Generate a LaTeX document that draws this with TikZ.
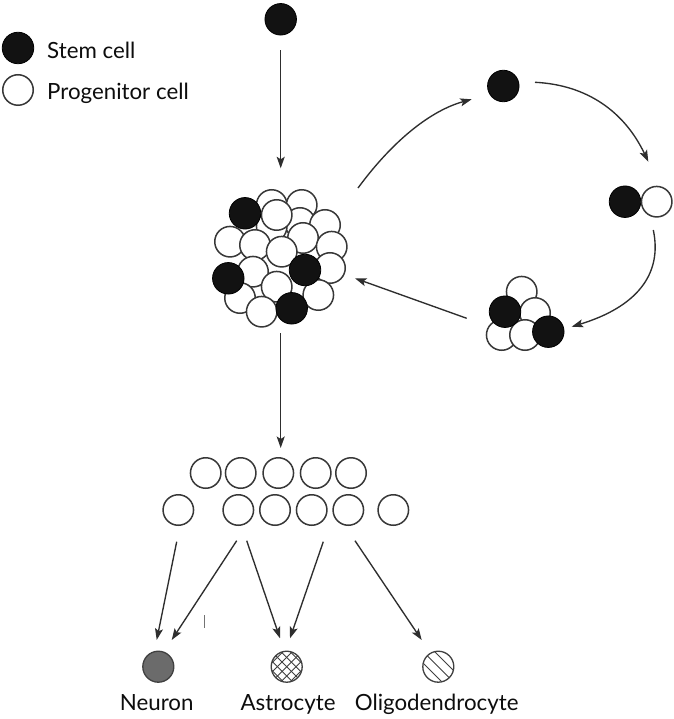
\documentclass[tikz,border=0pt]{standalone}
\usepackage{fontspec}
\setmainfont{Lato}
\usetikzlibrary{arrows.meta,calc}
\begin{document}
\begin{tikzpicture}[x=1pt,y=-1pt,
  stem/.style={circle,draw=black,fill=black!93,line width=0.8pt,minimum size=31.5pt,inner sep=0pt},
  prog/.style={circle,draw=black!78,fill=white,line width=1.5pt,minimum size=30.5pt,inner sep=0pt},
  fate/.style={circle,draw=black!75,line width=1.3pt,minimum size=31pt,inner sep=0pt},
  arr/.style={draw=black!82,line width=1.35pt,-{Stealth[length=11.5pt,width=8pt,inset=2.5pt]}},
  lbl/.style={font=\fontsize{22.3}{26}\selectfont,inner sep=0pt,text=black!95}]
\fill[white] (0,0) rectangle (673,719);
\useasboundingbox (0,0) rectangle (673,719);

% legend
\node[stem] (lstem) at (18,48) {};
\node[prog] (lprog) at (18,90) {};
\node[lbl,anchor=base west] (tstem) at (47,58.3) {Stem cell};
\node[lbl,anchor=base west] (tprog) at (47,100) {Progenitor cell};

% top stem cell
\node[stem] (top) at (280.7,19.3) {};

% big cluster (back to front)
\foreach \x/\y/\s [count=\i] in {
  271.7/205/prog, 301.7/205/prog, 300/223/prog, 325/225/prog, 303/238/prog,
  331.7/246.7/prog, 271.7/226.7/prog, 276.7/215/prog, 245/213.3/stem,
  230/241.7/prog, 255/245/prog, 330/268/prog, 253/271.7/prog, 281.7/251.7/prog,
  318.3/295/prog, 240/298/prog, 276.7/286.7/prog, 261.7/311.7/prog,
  228.3/278.3/stem, 305/270/stem, 291.7/308.3/stem}
  \node[\s] (c\i) at (\x,\y) {};

% right cycle
\node[stem] (rtop) at (503.3,86) {};
\node[stem] (pb) at (625,201.7) {};
\node[prog] (pw) at (656.7,201.7) {};
\foreach \x/\y/\s [count=\i] in {
  521.7/291.7/prog, 535/313/prog, 501.7/335/prog, 525/335/prog,
  505/311.7/stem, 548.3/331.7/stem}
  \node[\s] (s\i) at (\x,\y) {};

% progenitor rows
\foreach \x [count=\i] in {205.7,240.7,278.3,315.7,351}
  \node[prog] (r\i) at (\x,473) {};
\foreach \x [count=\i] in {178.3,238.3,275,311.7,348.3,393.3}
  \node[prog] (b\i) at (\x,510) {};

% fates
\node[fate,fill=black!58] (neuron) at (158.3,666.7) {};
\node[fate,fill=white,path picture={
  \foreach \k in {-5,...,5}{
    \draw[black!75,line width=0.9pt] ([shift={(\k*9.3-25,-25)}]path picture bounding box.center) -- ++(50,50);
    \draw[black!75,line width=0.9pt] ([shift={(\k*9.3-25,25)}]path picture bounding box.center) -- ++(50,-50);}
  }] (astro) at (286.7,666.7) {};
\node[fate,fill=white,path picture={
  \foreach \k in {-4,...,4}
    \draw[black!75,line width=0.9pt] ([shift={(\k*11.5-25,-25)}]path picture bounding box.center) -- ++(50,50);
  }] (oligo) at (438.3,666.7) {};
\node[lbl,anchor=base] (tneuron) at (156.7,710.7) {Neuron};
\node[lbl,anchor=base] (tastro) at (288,710.7) {Astrocyte};
\node[lbl,anchor=base] (toligo) at (436.7,710.7) {Oligodendrocyte};

% arrow end points
\coordinate (clN) at (280.7,168.3);
\coordinate (clS) at (280.7,333);
\coordinate (rowN) at (280.7,448);
\coordinate (aS) at (358,188);
\coordinate (aE) at (471.7,99.3);
\coordinate (bS) at (535,82.3);
\coordinate (bE) at (648.3,161.7);
\coordinate (cS) at (653.3,230);
\coordinate (cE) at (571.7,326.7);
\coordinate (dS) at (466.7,318.3);
\coordinate (dE) at (355,278.3);
\coordinate (f1s) at (176.7,541.7);
\coordinate (f1e) at (156.7,640);
\coordinate (f2s) at (236.7,540.7);
\coordinate (f2e) at (171.7,640);
\coordinate (f3s) at (246.7,540.7);
\coordinate (f3e) at (280,638.3);
\coordinate (f4s) at (323.3,541.7);
\coordinate (f4e) at (290,638.3);
\coordinate (f5s) at (355,540.7);
\coordinate (f5e) at (421.7,640);

\draw[arr,shorten <=14.7pt] (top) -- (clN);
\draw[arr] (clS) -- (rowN);
\draw[arr] (aS) .. controls (393.3,140) and (431.2,110.4) .. (aE);
\draw[arr] (bS) .. controls (586.5,84.8) and (624.3,111.2) .. (bE);
\draw[arr] (cS) .. controls (662.8,275.1) and (635.6,307.3) .. (cE);
\draw[arr] (dS) -- (dE);
\draw[arr] (f1s) -- (f1e);
\draw[arr] (f2s) -- (f2e);
\draw[arr] (f3s) -- (f3e);
\draw[arr] (f4s) -- (f4e);
\draw[arr] (f5s) -- (f5e);

% small stray tick
\draw[black!55,line width=0.8pt] (204.3,615) -- (204.3,628.3);
\end{tikzpicture}
\end{document}
